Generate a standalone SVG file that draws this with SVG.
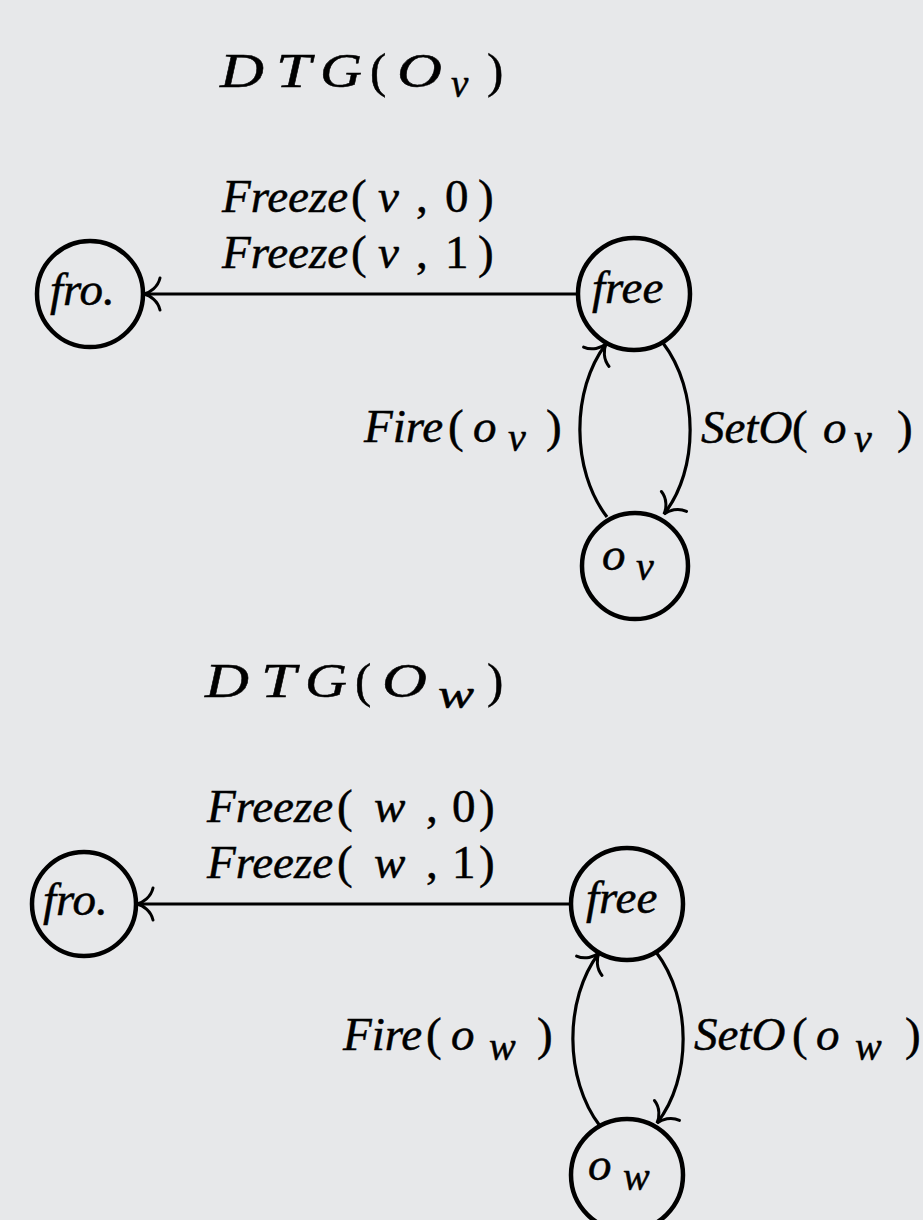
<svg xmlns="http://www.w3.org/2000/svg" width="923" height="1220" viewBox="0 0 923 1220">
  <style>
    .bg { fill: #e7e8ea; }
    .node { fill: none; stroke: #000; stroke-width: 4.5; }
    .edge { fill: none; stroke: #000; stroke-width: 3.2; }
    text { font-family: "Liberation Serif", "Times New Roman", serif; fill: #000; stroke: #000; stroke-width: 0.5; }
    .it { font-style: italic; font-size: 47px; }
    .up { font-style: normal; font-size: 47px; }
    .title { font-style: italic; font-size: 49px; }
    .tup { font-style: normal; font-size: 49px; }
    .sub { font-style: italic; font-size: 40px; }
    .tsub { font-style: italic; font-size: 39px; }
  </style>
  <defs>
    <marker id="to" markerUnits="userSpaceOnUse" viewBox="-20 -20 24 40" markerWidth="24" markerHeight="40" refX="0" refY="0" orient="auto">
      <path d="M -16,-16 C -14,-7 -6,-1.5 0,0 C -6,1.5 -14,7 -16,16" fill="none" stroke="#000" stroke-width="3" stroke-linecap="round"/>
    </marker>
  </defs>
  <rect class="bg" x="0" y="0" width="923" height="1220"/>

  <!-- ===== DTG(O_v) ===== -->
  <g id="title-v">
    <text y="87"><tspan class="title" x="220" textLength="44" lengthAdjust="spacingAndGlyphs">D</tspan><tspan class="title" x="276" textLength="35" lengthAdjust="spacingAndGlyphs">T</tspan><tspan class="title" x="320" textLength="42" lengthAdjust="spacingAndGlyphs">G</tspan><tspan class="tup" x="370">(</tspan><tspan class="title" x="397" textLength="45" lengthAdjust="spacingAndGlyphs">O</tspan><tspan class="tsub" x="451" y="97">v</tspan><tspan class="tup" x="487" y="87">)</tspan></text>
  </g>

  <g id="edges-v">
    <path class="edge" d="M 578,294 L 144,294" marker-end="url(#to)"/>
    <path class="edge" d="M 607,517 C 571,470 571,390 606,344" marker-end="url(#to)"/>
    <path class="edge" d="M 663,343 C 699,390 699,470 664,514" marker-end="url(#to)"/>
    <text y="212"><tspan class="it" x="222">Freeze</tspan><tspan class="up" x="351">(</tspan><tspan class="it" x="378">v</tspan><tspan class="up" x="416">,</tspan><tspan class="up" x="445">0</tspan><tspan class="up" x="478">)</tspan></text>
    <text y="268"><tspan class="it" x="222">Freeze</tspan><tspan class="up" x="351">(</tspan><tspan class="it" x="378">v</tspan><tspan class="up" x="416">,</tspan><tspan class="up" x="445">1</tspan><tspan class="up" x="478">)</tspan></text>
    <text y="442"><tspan class="it" x="364">Fire</tspan><tspan class="up" x="448">(</tspan><tspan class="it" x="473">o</tspan><tspan class="sub" x="508" y="451">v</tspan><tspan class="up" x="546" y="442">)</tspan></text>
    <text y="443"><tspan class="it" x="701">SetO</tspan><tspan class="up" x="792">(</tspan><tspan class="it" x="823">o</tspan><tspan class="sub" x="854" y="452">v</tspan><tspan class="up" x="897" y="443">)</tspan></text>
  </g>

  <g id="node-v-frozen">
    <circle class="node" cx="90" cy="294" r="53"/>
    <text class="it" x="50" y="305">fro.</text>
  </g>
  <g id="node-v-free">
    <circle class="node" cx="634" cy="294" r="56"/>
    <text class="it" x="592" y="303">free</text>
  </g>
  <g id="node-v-ov">
    <circle class="node" cx="635" cy="566" r="53"/>
    <text y="570"><tspan class="it" x="602">o</tspan><tspan class="sub" x="636" y="580">v</tspan></text>
  </g>

  <!-- ===== DTG(O_w) ===== -->
  <g id="title-w">
    <text y="697"><tspan class="title" x="205" textLength="44" lengthAdjust="spacingAndGlyphs">D</tspan><tspan class="title" x="261" textLength="35" lengthAdjust="spacingAndGlyphs">T</tspan><tspan class="title" x="305" textLength="42" lengthAdjust="spacingAndGlyphs">G</tspan><tspan class="tup" x="355">(</tspan><tspan class="title" x="382" textLength="45" lengthAdjust="spacingAndGlyphs">O</tspan><tspan class="tsub" x="438" y="708" textLength="36" lengthAdjust="spacingAndGlyphs">w</tspan><tspan class="tup" x="487" y="697">)</tspan></text>
  </g>

  <g id="edges-w">
    <path class="edge" d="M 571,904 L 137,904" marker-end="url(#to)"/>
    <path class="edge" d="M 600,1126 C 564,1079 564,999 599,953" marker-end="url(#to)"/>
    <path class="edge" d="M 656,952 C 692,999 692,1079 657,1123" marker-end="url(#to)"/>
    <text y="822"><tspan class="it" x="207">Freeze</tspan><tspan class="up" x="337">(</tspan><tspan class="it" x="374">w</tspan><tspan class="up" x="426">,</tspan><tspan class="up" x="452">0</tspan><tspan class="up" x="479">)</tspan></text>
    <text y="878"><tspan class="it" x="207">Freeze</tspan><tspan class="up" x="337">(</tspan><tspan class="it" x="374">w</tspan><tspan class="up" x="426">,</tspan><tspan class="up" x="452">1</tspan><tspan class="up" x="479">)</tspan></text>
    <text y="1050"><tspan class="it" x="343">Fire</tspan><tspan class="up" x="426">(</tspan><tspan class="it" x="451">o</tspan><tspan class="sub" x="489" y="1060">w</tspan><tspan class="up" x="537" y="1050">)</tspan></text>
    <text y="1050"><tspan class="it" x="694">SetO</tspan><tspan class="up" x="792">(</tspan><tspan class="it" x="816">o</tspan><tspan class="sub" x="855" y="1060">w</tspan><tspan class="up" x="905" y="1050">)</tspan></text>
  </g>

  <g id="node-w-frozen">
    <circle class="node" cx="84" cy="904" r="52"/>
    <text class="it" x="43" y="915">fro.</text>
  </g>
  <g id="node-w-free">
    <circle class="node" cx="627" cy="904" r="56"/>
    <text class="it" x="586" y="913">free</text>
  </g>
  <g id="node-w-ow">
    <circle class="node" cx="627" cy="1175" r="56"/>
    <text y="1180"><tspan class="it" x="588">o</tspan><tspan class="sub" x="623" y="1190">w</tspan></text>
  </g>
</svg>
